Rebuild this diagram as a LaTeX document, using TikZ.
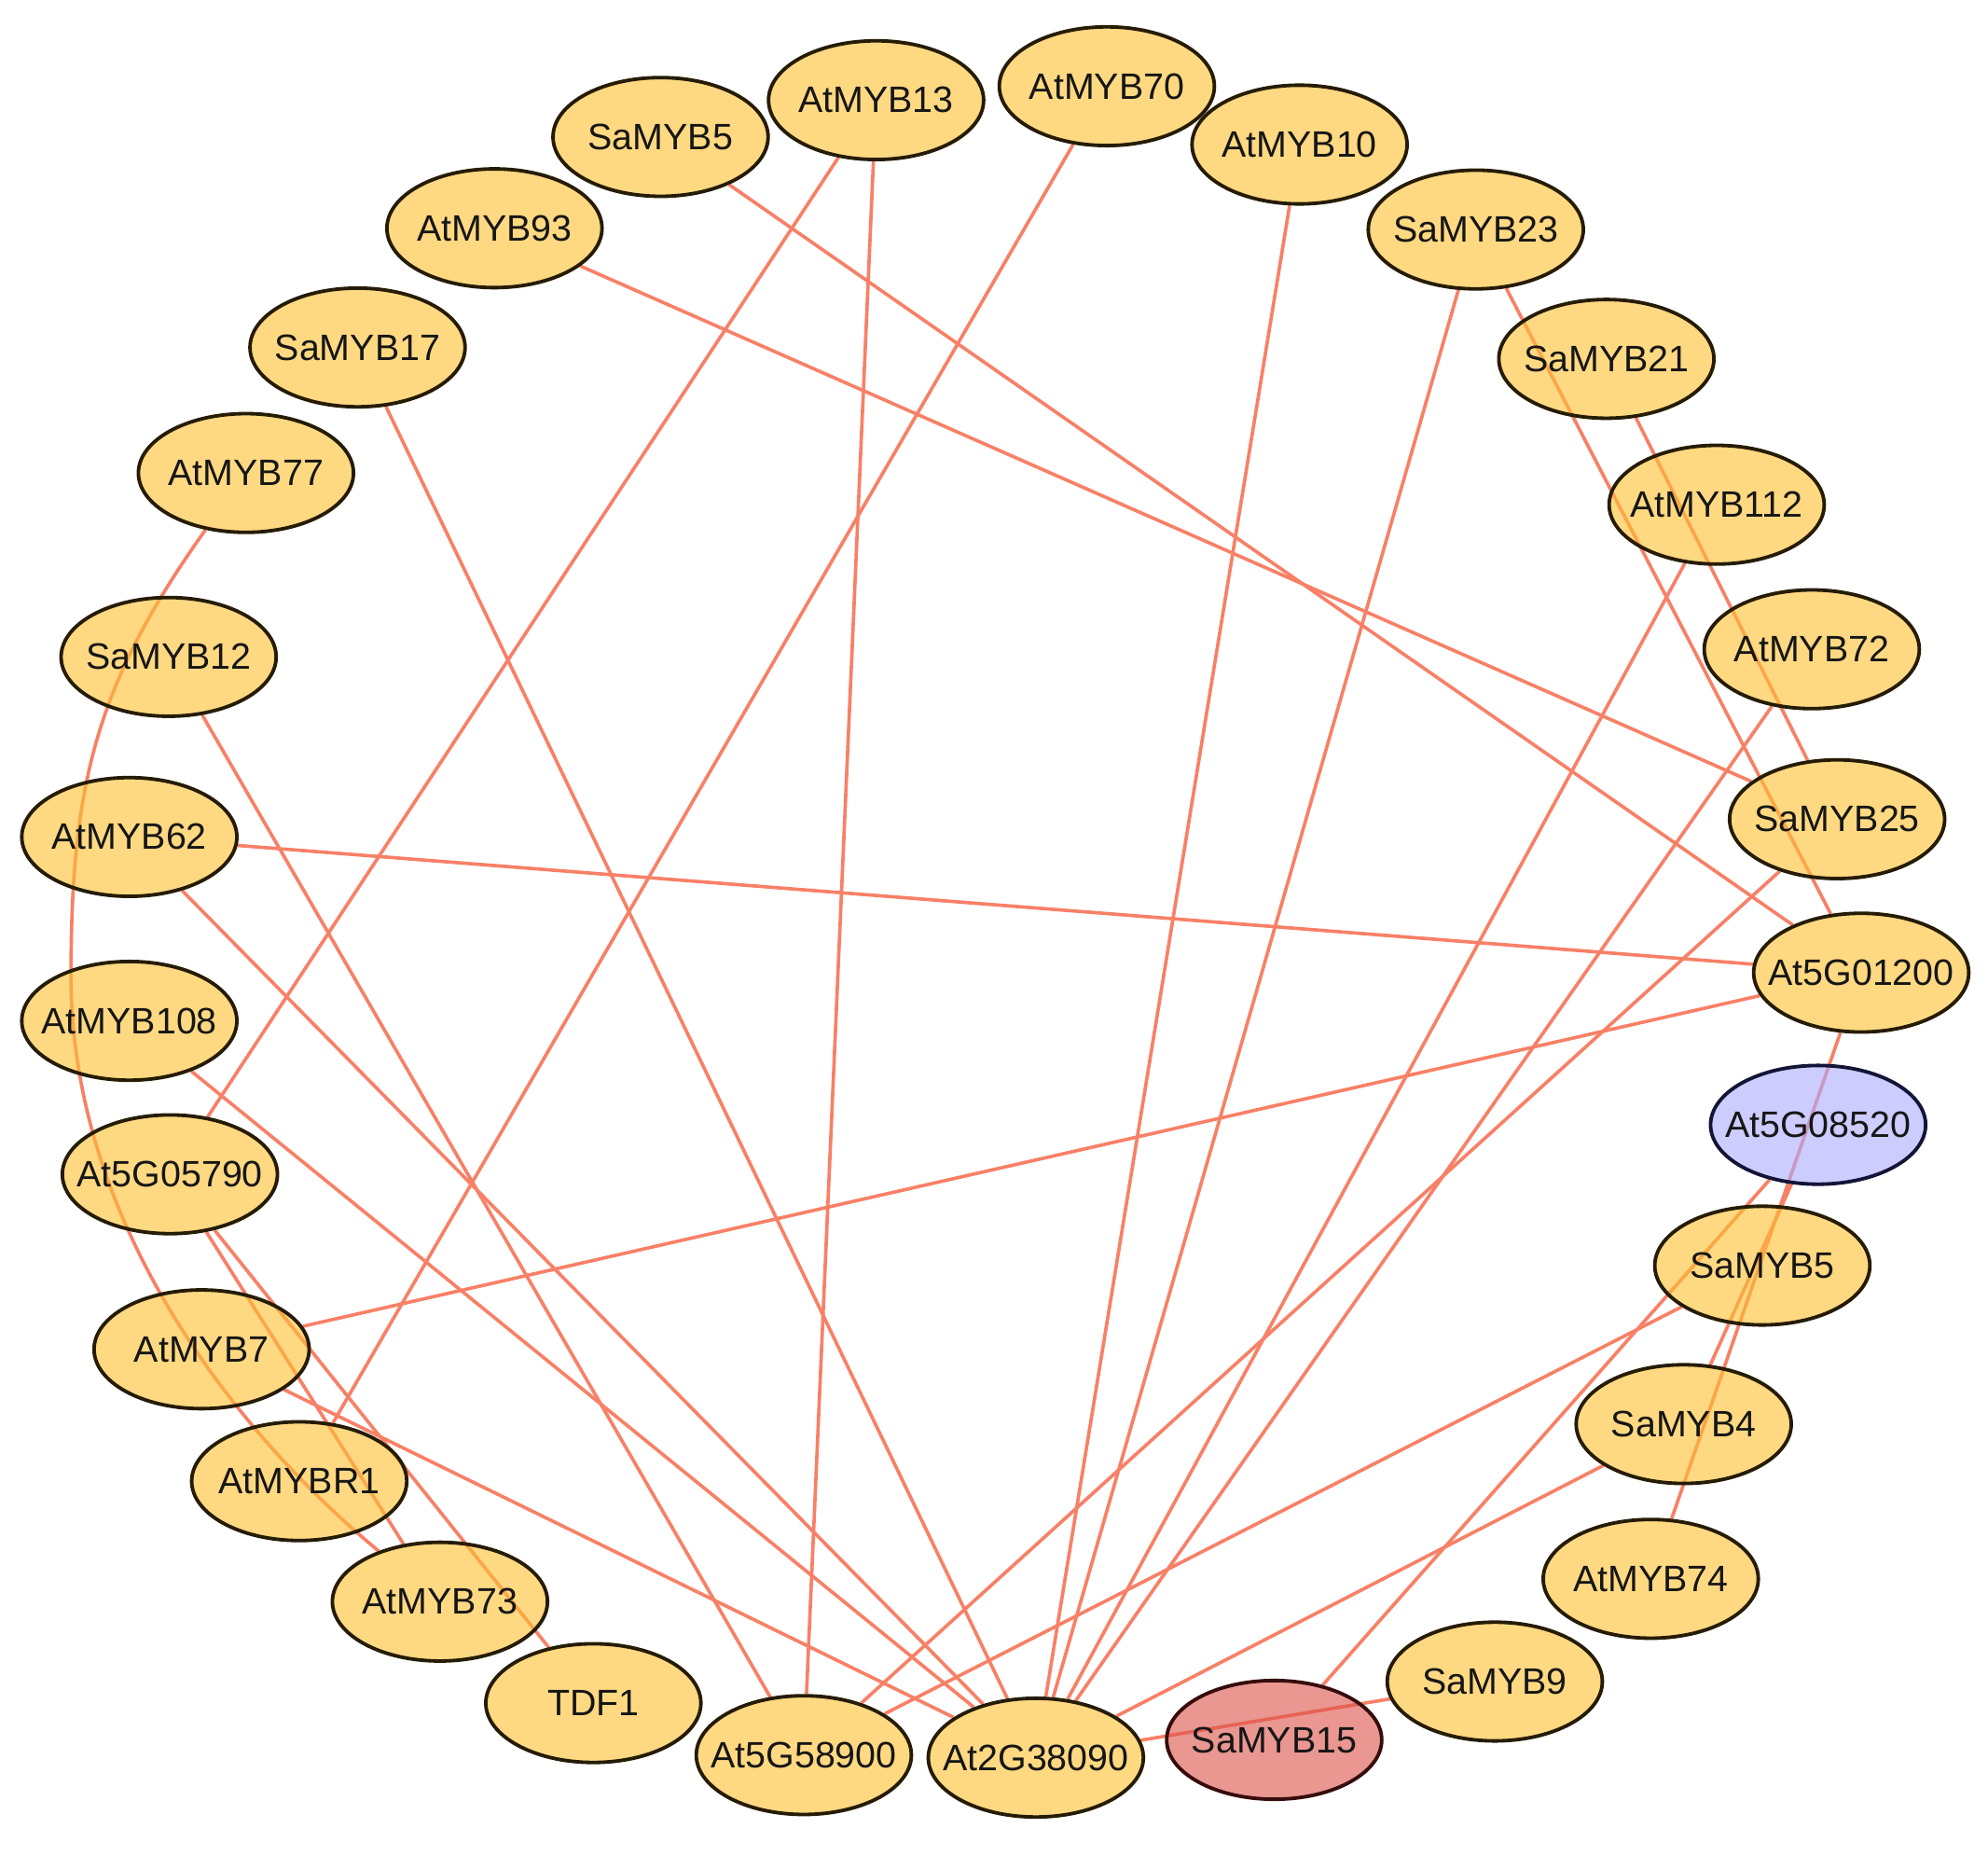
\documentclass[tikz,border=0pt]{standalone}
\usepackage{fontspec}
\setmainfont{Liberation Sans}
\usetikzlibrary{shapes.geometric}
\definecolor{edgec}{RGB}{248,128,102}
\definecolor{yfill}{RGB}{255,192,47}
\definecolor{rfill}{RGB}{220,80,72}
\definecolor{bfill}{RGB}{170,170,255}
\definecolor{yborder}{RGB}{38,28,5}
\definecolor{rborder}{RGB}{55,12,12}
\definecolor{bborder}{RGB}{20,20,55}
\definecolor{txt}{RGB}{22,22,22}
\newcommand{\genelabel}[1]{\makebox[0pt]{#1}}
\pgfdeclarelayer{bg}
\pgfdeclarelayer{edges}
\pgfsetlayers{bg,edges,main}
\begin{document}
\begin{tikzpicture}[x=0.025cm,y=-0.025cm,
  gene/.style={ellipse, draw=yborder, fill=yfill, fill opacity=0.6, draw opacity=1,
    text opacity=1, line width=2pt, minimum width=4.24cm, minimum height=2.34cm,
    inner sep=0pt, text=txt, font=\fontsize{20.6}{24}\selectfont},
  focus/.style={gene, draw=rborder, fill=rfill},
  query/.style={gene, draw=bborder, fill=bfill},
  edge/.style={draw=edgec, line width=1.9pt}]
\begin{pgfonlayer}{bg}
\fill[white] (0,0) rectangle (1568,1463);
\end{pgfonlayer}
\useasboundingbox (0,0) rectangle (1568,1463);

\node[gene] (s5t) at (521,108) {\genelabel{SaMYB5}};
\node[gene] (a13) at (691,79) {\genelabel{AtMYB13}};
\node[gene] (a70) at (873,68) {\genelabel{AtMYB70}};
\node[gene] (a10) at (1025,114) {\genelabel{AtMYB10}};
\node[gene] (s23) at (1164,181) {\genelabel{SaMYB23}};
\node[gene] (s21) at (1267,283) {\genelabel{SaMYB21}};
\node[gene] (a112) at (1354,398) {\genelabel{AtMYB112}};
\node[gene] (a72) at (1429,512) {\genelabel{AtMYB72}};
\node[gene] (s25) at (1449,646) {\genelabel{SaMYB25}};
\node[gene] (g01200) at (1468,767) {\genelabel{At5G01200}};
\node[query] (g08520) at (1434,887) {\genelabel{At5G08520}};
\node[gene] (s5r) at (1390,998) {\genelabel{SaMYB5}};
\node[gene] (s4) at (1328,1123) {\genelabel{SaMYB4}};
\node[gene] (a74) at (1302,1245) {\genelabel{AtMYB74}};
\node[gene] (s9) at (1179,1326) {\genelabel{SaMYB9}};
\node[focus] (s15) at (1005,1372) {\genelabel{SaMYB15}};
\node[gene] (g38090) at (817,1386) {\genelabel{At2G38090}};
\node[gene] (g58900) at (634,1384) {\genelabel{At5G58900}};
\node[gene] (tdf1) at (468,1343) {\genelabel{TDF1}};
\node[gene] (a73) at (347,1263) {\genelabel{AtMYB73}};
\node[gene] (ar1) at (236,1168) {\genelabel{AtMYBR1}};
\node[gene] (a7) at (159,1064) {\genelabel{AtMYB7}};
\node[gene] (g05790) at (134,926) {\genelabel{At5G05790}};
\node[gene] (a108) at (102,805) {\genelabel{AtMYB108}};
\node[gene] (a62) at (102,660) {\genelabel{AtMYB62}};
\node[gene] (s12) at (133,518) {\genelabel{SaMYB12}};
\node[gene] (a77) at (194,373) {\genelabel{AtMYB77}};
\node[gene] (s17) at (282,274) {\genelabel{SaMYB17}};
\node[gene] (a93) at (390,180) {\genelabel{AtMYB93}};

\coordinate (c1) at (75,540);
\coordinate (c2) at (56,620);
\coordinate (m1) at (56,770);
\coordinate (c3) at (56,960);
\coordinate (c4) at (180,1125);

\begin{pgfonlayer}{edges}
\draw[edge] (s5t) -- (g01200);
\draw[edge] (a13) -- (g05790);
\draw[edge] (a13) -- (g58900);
\draw[edge] (a70) -- (ar1);
\draw[edge] (a10) -- (g38090);
\draw[edge] (s23) -- (g38090);
\draw[edge] (s23) -- (g01200);
\draw[edge] (s21) -- (s25);
\draw[edge] (a112) -- (g38090);
\draw[edge] (a72) -- (g38090);
\draw[edge] (s25) -- (g58900);
\draw[edge] (a93) -- (s25);
\draw[edge] (s17) -- (g38090);
\draw[edge] (s12) -- (g58900);
\draw[edge] (a62) -- (g01200);
\draw[edge] (a62) -- (g38090);
\draw[edge] (a108) -- (g38090);
\draw[edge] (g05790) -- (a73);
\draw[edge] (g05790) -- (tdf1);
\draw[edge] (a7) -- (g01200);
\draw[edge] (a7) -- (g38090);
\draw[edge] (g01200) -- (a74);
\draw[edge] (g08520) -- (s4);
\draw[edge] (g08520) -- (s15);
\draw[edge] (s5r) -- (g58900);
\draw[edge] (s4) -- (g38090);
\draw[edge] (s9) -- (g38090);
\draw[edge] (a77) .. controls (c1) and (c2) .. (m1) .. controls (c3) and (c4) .. (a73);
\end{pgfonlayer}
\end{tikzpicture}
\end{document}
